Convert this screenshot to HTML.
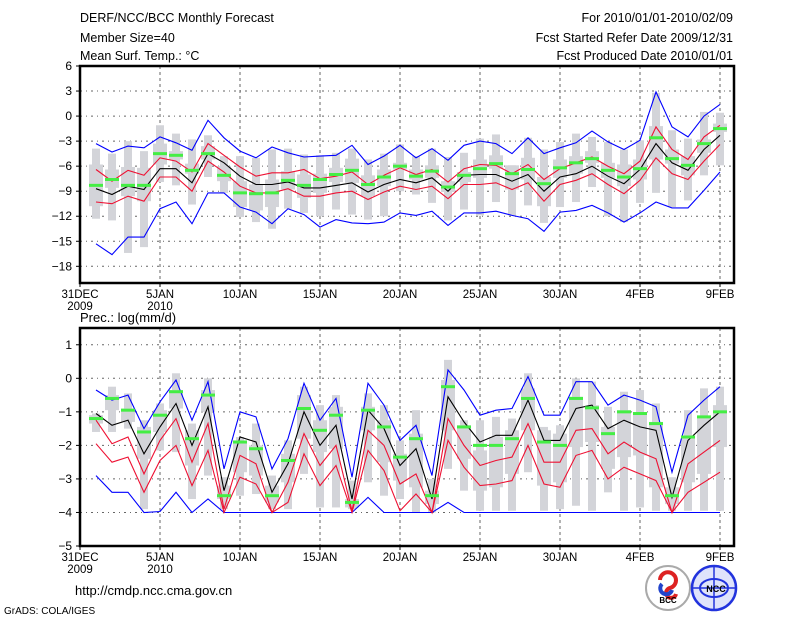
<!DOCTYPE html>
<html><head><meta charset="utf-8">
<style>
html,body{margin:0;padding:0;background:#fff;width:800px;height:618px;overflow:hidden}
svg{display:block}
text{font-family:"Liberation Sans",sans-serif;fill:#000}
</style></head>
<body>
<svg id="chart" width="800" height="618" viewBox="0 0 800 618" xmlns="http://www.w3.org/2000/svg">
<rect width="800" height="618" fill="#fff"/>
<g font-size="12.5">
<text x="80" y="22">DERF/NCC/BCC Monthly Forecast</text>
<text x="80" y="42">Member Size=40</text>
<text x="80" y="60">Mean Surf. Temp.: °C</text>
<text x="733" y="22" text-anchor="end">For 2010/01/01-2010/02/09</text>
<text x="733" y="42" text-anchor="end">Fcst Started Refer Date 2009/12/31</text>
<text x="733" y="60" text-anchor="end">Fcst Produced Date 2010/01/01</text>
<text x="80" y="322" font-size="13">Prec.: log(mm/d)</text>
<text x="75" y="595" font-size="13">http://cmdp.ncc.cma.gov.cn</text>
<text x="4" y="614" font-size="10">GrADS: COLA/IGES</text>
</g>
<g>
<circle cx="668" cy="588" r="22" fill="#fff" stroke="#aaa" stroke-width="2"/>
<path d="M660 580 a8 8 0 1 1 10 8 a5 5 0 1 0 6 6" fill="none" stroke="#d22" stroke-width="4"/>
<path d="M662 584 a6 6 0 1 0 10 6" fill="none" stroke="#24c" stroke-width="4"/>
<text x="668" y="603" font-size="8" text-anchor="middle" font-weight="bold">BCC</text>
</g>
<g>
<circle cx="714" cy="588" r="22" fill="#dfe3fb" stroke="#2233dd" stroke-width="2.5"/>
<ellipse cx="714" cy="588" rx="14" ry="9" fill="none" stroke="#2233dd" stroke-width="2"/>
<line x1="692" y1="588" x2="736" y2="588" stroke="#2233dd" stroke-width="1.5"/>
<line x1="714" y1="566" x2="714" y2="610" stroke="#2233dd" stroke-width="1.5"/>
<text x="716" y="592" font-size="9" text-anchor="middle" fill="#2233dd" font-weight="bold">NCC</text>
</g>
</svg>
<script>
// ---------- Temperature data (days 1..40) ----------
const days = Array.from({length:40},(_,i)=>i+1);
const xTickLabels = ["31DEC","5JAN","10JAN","15JAN","20JAN","25JAN","30JAN","4FEB","9FEB"];
const xTickDays = [0,5,10,15,20,25,30,35,40];
const tTicks = [6,3,0,-3,-6,-9,-12,-15,-18];
const pTicks = [1,0,-1,-2,-3,-4,-5];
const tMax = [-3.3,-4.3,-3.6,-3.8,-2.5,-3.2,-4.1,-0.5,-2.6,-4.2,-5.0,-3.7,-4.4,-4.9,-4.8,-4.7,-3.5,-5.8,-4.8,-3.5,-5.0,-3.9,-5.3,-3.5,-3.0,-3.3,-4.5,-2.6,-4.5,-3.8,-3.2,-1.8,-3.1,-4.0,-2.9,2.9,-1.3,-2.5,0.0,1.4];
const tMin = [-15.3,-16.6,-14.5,-14.5,-11.1,-10.3,-12.9,-9.2,-9.2,-10.9,-11.5,-12.9,-11.1,-11.8,-13.3,-12.4,-12.8,-12.9,-12.7,-11.6,-11.9,-11.4,-13.1,-11.6,-11.6,-11.4,-11.9,-12.3,-13.8,-11.5,-11.3,-10.7,-11.6,-12.7,-11.6,-10.3,-11.0,-11.0,-8.9,-6.7];
const tRedUp = [-6.4,-7.8,-6.5,-7.1,-5.0,-5.4,-6.7,-3.3,-4.7,-6.1,-7.2,-6.8,-6.8,-6.4,-7.5,-7.2,-6.7,-8.2,-7.1,-6.2,-7.0,-6.4,-7.9,-6.3,-5.8,-5.9,-6.9,-5.8,-7.6,-6.3,-5.6,-4.9,-6.0,-6.9,-5.4,-1.3,-4.0,-5.2,-2.5,-1.1];
const tRedLo = [-10.3,-10.5,-9.6,-10.2,-7.3,-7.3,-9.0,-5.4,-6.7,-8.4,-9.2,-9.2,-8.7,-9.6,-9.6,-9.2,-9.0,-10.0,-9.1,-8.4,-8.8,-8.4,-9.9,-8.2,-8.2,-8.0,-8.8,-8.0,-10.2,-8.2,-7.7,-6.9,-8.2,-9.3,-7.7,-5.0,-6.9,-7.6,-5.4,-3.4];
const tMean = [-8.7,-9.4,-8.4,-8.8,-6.3,-6.3,-8.0,-4.5,-5.6,-7.2,-8.2,-8.2,-7.9,-8.6,-8.6,-8.3,-8.0,-9.1,-8.2,-7.6,-8.0,-7.4,-9.0,-7.1,-7.0,-7.0,-7.8,-7.0,-9.0,-7.3,-6.9,-6.0,-7.2,-8.1,-6.4,-3.3,-5.6,-6.5,-4.0,-2.3];
const tMed = [-8.3,-7.6,-8.3,-8.3,-4.5,-4.7,-6.5,-4.5,-7.1,-9.2,-9.3,-9.2,-7.7,-8.3,-7.6,-7.0,-6.5,-8.2,-7.3,-6.0,-7.2,-6.6,-8.5,-7.1,-6.3,-5.7,-6.9,-6.4,-8.1,-6.2,-5.6,-5.1,-6.5,-7.3,-6.3,-2.6,-5.1,-5.9,-3.3,-1.5];
const tWhiskTop = [-3.9,-4.5,-3.0,-4.2,-1.1,-2.1,-2.8,-2.3,-4.8,-4.8,-5.0,-4.0,-3.9,-4.6,-4.7,-4.4,-3.9,-5.2,-4.5,-3.4,-4.8,-3.9,-4.9,-4.4,-2.7,-2.2,-5.9,-2.6,-4.0,-3.1,-2.1,-2.5,-3.1,-4.0,-2.9,2.8,-1.7,-2.7,0.5,0.4];
const tWhiskBot = [-12.3,-12.5,-16.4,-15.7,-7.9,-8.3,-10.6,-7.3,-9.2,-12.1,-12.7,-13.5,-11.1,-11.6,-12.0,-11.2,-11.8,-12.4,-12.0,-9.0,-9.4,-10.4,-12.5,-11.2,-11.9,-10.3,-11.9,-10.7,-12.8,-10.9,-10.3,-8.5,-12.0,-12.7,-10.4,-9.2,-10.9,-10.1,-7.1,-5.9];
const tBoxTop = [-5.8,-6.4,-6.1,-6.2,-3.3,-4.2,-5.7,-3.6,-6.0,-7.8,-8.2,-7.6,-6.6,-7.0,-6.9,-6.2,-5.1,-7.1,-6.4,-5.6,-6.4,-5.9,-7.8,-6.7,-5.2,-4.7,-5.9,-5.0,-7.3,-5.2,-4.8,-4.2,-5.6,-5.8,-5.2,-1.2,-4.0,-4.8,-2.8,-0.9];
const tBoxBot = [-10.8,-8.6,-9.6,-10.2,-5.8,-5.2,-6.9,-5.2,-7.8,-10.9,-11.3,-10.9,-8.8,-9.8,-9.2,-7.9,-8.0,-9.6,-8.4,-6.4,-7.6,-7.4,-9.1,-7.9,-7.4,-6.3,-8.8,-7.6,-10.8,-7.4,-6.9,-5.6,-7.4,-8.4,-7.6,-5.2,-5.7,-7.1,-4.4,-1.9];
// ---------- Precipitation data ----------
const pMax = [-0.35,-0.65,-0.5,-1.5,-0.7,-0.05,-1.25,-0.1,-2.7,-1.0,-1.15,-2.7,-1.8,-0.15,-1.25,-0.6,-2.95,-0.15,-0.8,-1.85,-1.4,-2.9,0.25,-0.35,-1.1,-0.95,-0.9,0.05,-1.1,-1.1,-0.1,-0.1,-0.8,-0.5,-0.65,-0.85,-2.8,-1.1,-0.65,-0.25];
const pMin = [-2.9,-3.4,-3.4,-4.0,-3.97,-3.4,-4.0,-3.6,-4,-4,-4,-4,-4,-4,-4,-4,-4,-3.55,-4,-4,-4,-4,-3.7,-4,-4,-4,-4,-4,-4,-4,-4,-4,-4,-4,-4,-4,-4,-4,-4,-4];
const pRedUp = [-1.25,-1.95,-1.75,-2.85,-1.85,-1.2,-2.5,-1.35,-3.9,-2.3,-2.55,-4.0,-3.1,-1.65,-2.6,-2.0,-3.95,-1.55,-2.0,-3.15,-2.85,-4.0,-1.2,-2.0,-2.6,-2.45,-2.35,-1.35,-2.5,-2.5,-1.55,-1.5,-2.25,-1.9,-2.2,-2.4,-4.0,-2.55,-2.2,-1.85];
const pRedLo = [-1.95,-2.5,-2.35,-3.4,-2.45,-2.0,-3.2,-2.15,-4.0,-2.95,-3.15,-4.0,-3.7,-2.25,-3.2,-2.6,-4.0,-2.15,-2.75,-3.95,-3.45,-4.0,-1.85,-2.65,-3.2,-3.15,-3.05,-2.0,-3.15,-3.25,-2.3,-2.15,-3.0,-2.65,-2.85,-3.05,-4.0,-3.4,-3.1,-2.8];
const pMean = [-1.05,-1.4,-1.25,-2.25,-1.45,-0.75,-2.0,-0.85,-3.35,-1.75,-1.9,-3.4,-2.55,-1.0,-2.0,-1.4,-3.6,-0.95,-1.5,-2.6,-2.1,-3.6,-0.55,-1.3,-1.9,-1.7,-1.7,-0.65,-1.85,-1.85,-0.9,-0.8,-1.5,-1.25,-1.45,-1.55,-3.55,-1.85,-1.4,-1.0];
const pMed = [-1.2,-0.6,-0.95,-1.6,-1.1,-0.4,-1.8,-0.5,-3.5,-1.9,-2.1,-3.5,-2.45,-0.9,-1.55,-1.1,-3.7,-0.95,-1.45,-2.35,-1.8,-3.5,-0.25,-1.45,-2.0,-2.0,-1.8,-0.6,-1.9,-2.0,-0.6,-0.88,-1.65,-1.0,-1.05,-1.35,-3.5,-1.75,-1.15,-1.0];
const pWhiskTop = [-1.05,-0.25,-0.45,-1.25,-0.75,0.15,-1.35,0.0,-2.95,-1.75,-1.35,-2.9,-1.85,-0.25,-0.8,-0.5,-3.05,-0.45,-0.8,-1.85,-0.95,-3.0,0.55,-1.25,-1.25,-1.15,-1.2,0.15,-1.45,-1.4,0.0,-0.1,-0.85,-0.4,-0.35,-0.75,-2.95,-0.95,-0.3,-0.25];
const pWhiskBot = [-1.6,-1.6,-1.5,-3.9,-2.15,-2.2,-3.6,-2.9,-3.9,-3.5,-3.45,-3.9,-3.9,-2.85,-3.85,-3.85,-3.9,-3.1,-3.5,-3.6,-4.0,-4.0,-2.7,-3.35,-3.95,-3.95,-3.95,-2.8,-3.95,-3.9,-3.8,-3.95,-3.4,-3.95,-3.85,-3.95,-3.95,-3.95,-3.95,-3.95];
const pBoxTop = [-1.1,-0.5,-0.9,-1.45,-0.95,-0.35,-1.55,-0.35,-3.2,-1.85,-2.0,-3.2,-2.25,-0.5,-1.25,-0.85,-3.6,-0.85,-1.25,-2.25,-1.65,-3.35,-0.05,-1.4,-2.15,-1.75,-1.55,-0.3,-1.55,-1.65,-0.55,-0.8,-1.45,-0.95,-1.05,-1.3,-3.25,-1.75,-1.15,-0.8];
const pBoxBot = [-1.35,-0.95,-1.3,-2.4,-1.6,-0.9,-2.6,-1.0,-3.6,-2.8,-2.9,-3.7,-3.1,-1.8,-2.2,-2.1,-3.85,-1.55,-2.5,-3.05,-3.25,-3.75,-1.55,-2.4,-3.35,-3.25,-2.85,-1.55,-3.2,-3.1,-2.05,-1.9,-2.7,-2.35,-2.3,-3.25,-3.75,-3.1,-2.85,-2.05];

const NS="http://www.w3.org/2000/svg";
const svg=document.getElementById('chart');
const X0=80, X1=734, PX_DAY=16;
function xScale(d){return X0+d*PX_DAY;}
function mk(tag,attrs,parent){const e=document.createElementNS(NS,tag);for(const k in attrs)e.setAttribute(k,attrs[k]);(parent||svg).appendChild(e);return e;}

function panel(cfg){
  const {top,bottom,vmax,vmin,ticks,name}=cfg;
  const yScale=v=>top+(vmax-v)/(vmax-vmin)*(bottom-top);
  const g=mk('g',{});
  
  
  // grid
  ticks.forEach(t=>{
    const y=yScale(t);
    if(y>top+1&&y<bottom-1){
      const l=mk('line',{x1:X0,x2:X1,y1:y,y2:y,stroke:'#666','stroke-width':1,'stroke-dasharray':'2,4,1,4'},g);
      
      
    }
    const tk=mk('line',{x1:X0-4,x2:X0,y1:y,y2:y,stroke:'#000','stroke-width':1},g);
    
    
    const tx=mk('text',{x:X0-8,y:y+4,'text-anchor':'end','font-size':12},g);
    tx.textContent=(t<0?'\u2212'+(-t):''+t);
    
    
  });
  xTickDays.forEach((d,i)=>{
    const x=xScale(d);
    if(x>X0+1){
      const l=mk('line',{x1:x,x2:x,y1:top,y2:bottom,stroke:'#666','stroke-width':1,'stroke-dasharray':'3,3'},g);
      
      
    }
    const tk=mk('line',{x1:x,x2:x,y1:bottom,y2:bottom+4,stroke:'#000'},g);
    
    
    const tx=mk('text',{x:x,y:bottom+15,'text-anchor':'middle','font-size':11.5},g);
    tx.textContent=xTickLabels[i];
    
    
    if(i<2){
      const yr=mk('text',{x:x,y:bottom+27,'text-anchor':'middle','font-size':11.5},g);
      yr.textContent=i==0?'2009':'2010';
      
      
    }
  });
  // boxes
  days.forEach((d,i)=>{
    const x=xScale(d);
    const w=mk('rect',{x:x-4,y:yScale(cfg.wt[i]),width:8,height:Math.max(1,yScale(cfg.wb[i])-yScale(cfg.wt[i])),fill:'#d3d4d9'},g);
    
    
    const b=mk('rect',{x:x-7,y:yScale(cfg.bt[i]),width:14,height:Math.max(1,yScale(cfg.bb[i])-yScale(cfg.bt[i])),fill:'#d3d4d9'},g);
    
    
  });
  const line=(arr,color,nm)=>{
    const p=mk('polyline',{points:days.map((d,i)=>xScale(d)+','+yScale(arr[i]).toFixed(1)).join(' '),fill:'none',stroke:color,'stroke-width':1.1},g);
    
    
  };
  line(cfg.max,'#0000ff','max-line');
  line(cfg.min,'#0000ff','min-line');
  line(cfg.ru,'#ee1133','upper-spread-line');
  line(cfg.rl,'#ee1133','lower-spread-line');
  line(cfg.mean,'#000','ensemble-mean-line');
  days.forEach((d,i)=>{
    const m=mk('rect',{x:xScale(d)-7,y:yScale(cfg.med[i])-1.5,width:14,height:3,fill:'#44ee44'},g);
    
    
  });
  const fr=mk('rect',{x:X0,y:top,width:X1-X0,height:bottom-top,fill:'none',stroke:'#000','stroke-width':2.5},g);
  
  
}
panel({name:'temperature-panel',top:66,bottom:283,vmax:6,vmin:-20,ticks:tTicks,max:tMax,min:tMin,ru:tRedUp,rl:tRedLo,mean:tMean,med:tMed,wt:tWhiskTop,wb:tWhiskBot,bt:tBoxTop,bb:tBoxBot});
panel({name:'precipitation-panel',top:328,bottom:546,vmax:1.5,vmin:-5,ticks:pTicks,max:pMax,min:pMin,ru:pRedUp,rl:pRedLo,mean:pMean,med:pMed,wt:pWhiskTop,wb:pWhiskBot,bt:pBoxTop,bb:pBoxBot});
</script>
</body></html>
